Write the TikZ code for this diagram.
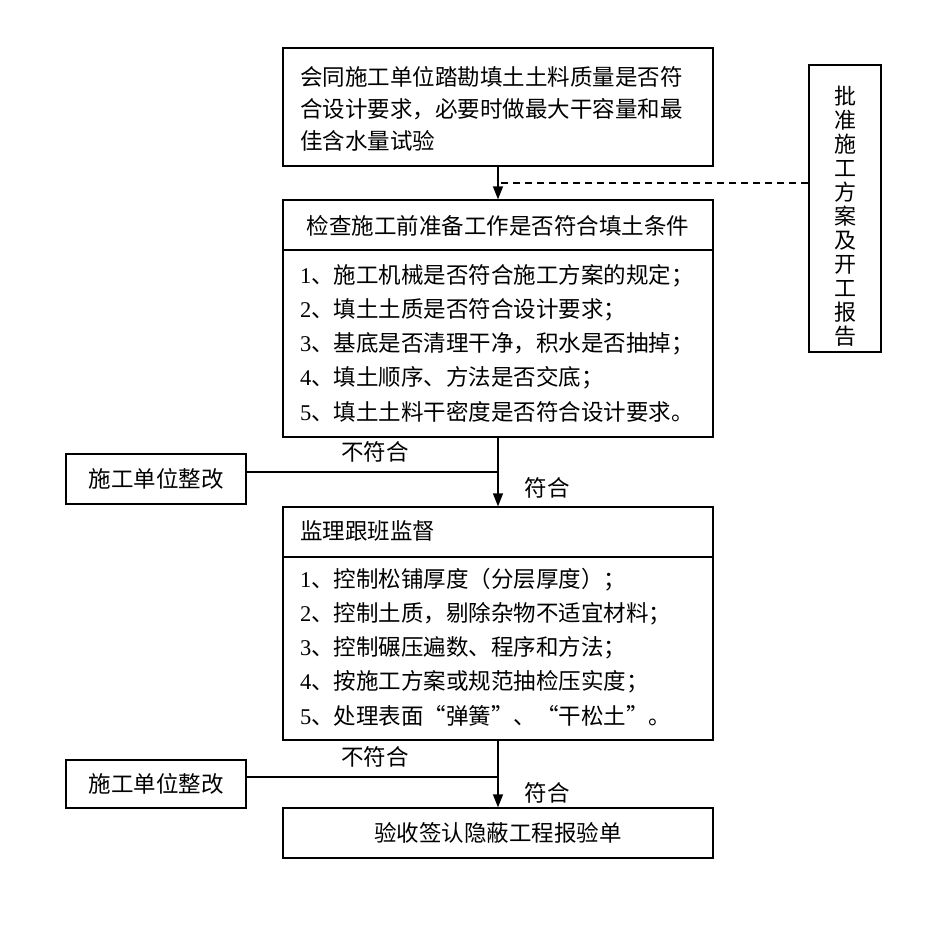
\documentclass[tikz,border=0pt]{standalone}
\usepackage{fontspec}
\setmainfont{Liberation Serif}
\newfontfamily\cjk{Noto Sans CJK SC}
\usetikzlibrary{arrows.meta}
\newcommand{\li}[2]{{\rmfamily #1}{\cjk 、#2}}
\begin{document}
\begin{tikzpicture}[x=1pt,y=-1pt,
  font=\cjk\fontsize{22.5}{32}\selectfont,
  box/.style={draw, line width=1.3pt, inner sep=0pt},
  txt/.style={inner sep=0pt, anchor=west},
  ctxt/.style={inner sep=0pt},
  conn/.style={line width=1.3pt},
  arr/.style={line width=1.3pt, -{Triangle[width=10pt,length=13pt]}}]
\fill[white] (0,0) rectangle (930,938);
\useasboundingbox (0,0) rectangle (930,938);
% boxes
\node[box, minimum width=430pt, minimum height=118pt] (top) at (498,107) {};
\node[box, minimum width=430pt, minimum height=237pt] (chk) at (498,318.5) {};
\node[box, minimum width=72pt, minimum height=287pt] (side) at (845,208.5) {};
\node[box, minimum width=180pt, minimum height=50pt] (fixa) at (156,479) {};
\node[box, minimum width=430pt, minimum height=233pt] (sup) at (498,623.5) {};
\node[box, minimum width=180pt, minimum height=48pt] (fixb) at (156,784) {};
\node[box, minimum width=430pt, minimum height=50pt] (acc) at (498,833) {};
% dividers
\draw[conn] (chk.west |- 0,250) -- (chk.east |- 0,250);
\draw[conn] (sup.west |- 0,557) -- (sup.east |- 0,557);
% texts
\node[txt] (t1) at (300,77) {会同施工单位踏勘填土土料质量是否符};
\node[txt] (t2) at (300,109) {合设计要求，必要时做最大干容量和最};
\node[txt] (t3) at (300,141) {佳含水量试验};
\node[ctxt] (h1) at (498,226) {检查施工前准备工作是否符合填土条件};
\node[txt] (a1) at (300,276) {\li{1}{施工机械是否符合施工方案的规定；}};
\node[txt] (a2) at (300,310) {\li{2}{填土土质是否符合设计要求；}};
\node[txt] (a3) at (300,344) {\li{3}{基底是否清理干净，积水是否抽掉；}};
\node[txt] (a4) at (300,378) {\li{4}{填土顺序、方法是否交底；}};
\node[txt] (a5) at (300,412) {\li{5}{填土土料干密度是否符合设计要求。}};
\node[txt] (h2) at (300,531) {监理跟班监督};
\node[txt] (b1) at (300,580) {\li{1}{控制松铺厚度（分层厚度）；}};
\node[txt] (b2) at (300,614) {\li{2}{控制土质，剔除杂物不适宜材料；}};
\node[txt] (b3) at (300,648) {\li{3}{控制碾压遍数、程序和方法；}};
\node[txt] (b4) at (300,682) {\li{4}{按施工方案或规范抽检压实度；}};
\node[txt] (b5) at (300,716) {\li{5}{处理表面“弹簧”、“干松土”。}};
\node[ctxt] (ft1) at (fixa) {施工单位整改};
\node[ctxt] (ft2) at (fixb) {施工单位整改};
\node[ctxt] (at) at (acc) {验收签认隐蔽工程报验单};
\node[ctxt, align=center, font=\cjk\fontsize{22}{24}\selectfont] (st) at (845,216)
  {批\\准\\施\\工\\方\\案\\及\\开\\工\\报\\告};
% connectors
\draw[arr] (top.south) -- (chk.north);
\coordinate (d) at (498,183);
\draw[conn, dashed, dash pattern=on 7pt off 5pt] (side.west |- d) -- (d);
\draw[arr] (chk.south) -- (sup.north);
\coordinate (ja) at (498,472);
\draw[conn] (fixa.east |- ja) -- (ja);
\draw[arr] (sup.south) -- (acc.north);
\coordinate (jb) at (498,777);
\draw[conn] (fixb.east |- jb) -- (jb);
% labels
\node[ctxt] (la1) at (375,452) {不符合};
\node[ctxt] (la2) at (547,488) {符合};
\node[ctxt] (lb1) at (375,757) {不符合};
\node[ctxt] (lb2) at (547,793) {符合};
\end{tikzpicture}
\end{document}
